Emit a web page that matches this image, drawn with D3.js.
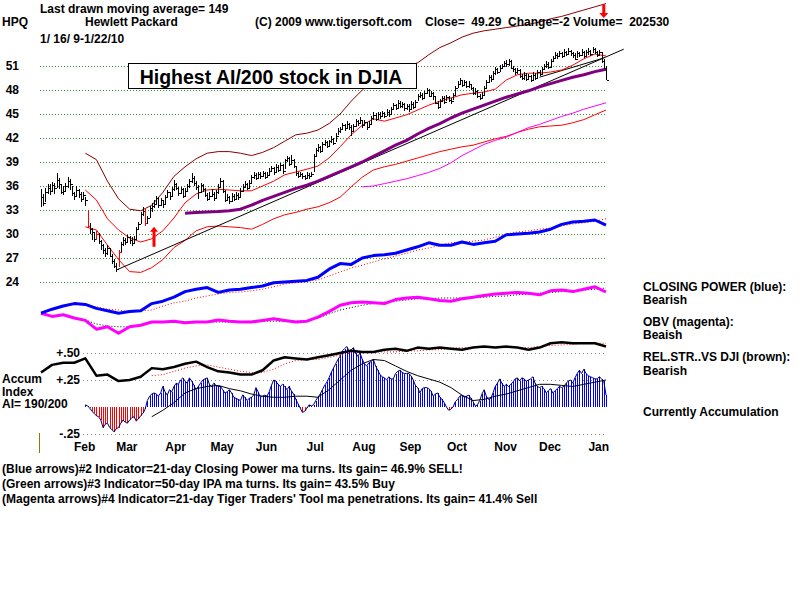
<!DOCTYPE html>
<html>
<head>
<meta charset="utf-8">
<script src="https://cdn.jsdelivr.net/npm/d3@7"></script>
<style>
body { margin: 0; background: #fff; }
svg text { font-family: "Liberation Sans", Arial, sans-serif; font-weight: bold; font-size: 12px; white-space: pre; }
</style>
</head>
<body>
<svg id="main-chart"></svg>
<script>
// daily bars, HPQ 1/16/09 - 1/22/10 (256 trading days)
const closes = [
  34.6,33.9,35.2,35.8,35.4,36.1,35.7,36.8,36.2,35.3,
  35.4,36.0,36.6,36.2,35.1,34.8,35.5,35.0,34.4,34.9,
  34.2,31.0,30.6,30.2,29.4,30.0,29.1,28.6,28.0,27.6,
  28.2,27.3,26.6,26.0,25.6,27.8,28.7,29.2,29.0,29.6,
  29.3,28.9,29.4,30.6,31.2,32.5,32.9,31.4,32.0,33.2,
  33.5,33.8,34.5,33.6,34.2,33.8,34.6,35.2,34.7,35.6,
  36.3,35.8,35.1,35.6,34.8,35.4,36.0,36.6,37.0,36.4,
  35.9,35.2,36.1,35.6,34.9,34.4,34.8,35.0,34.5,35.2,
  35.9,36.6,35.4,34.3,34.6,34.1,34.8,34.4,34.9,34.6,
  35.4,35.9,36.2,35.8,36.4,37.1,37.4,37.0,37.5,37.2,
  37.6,37.1,37.4,37.9,38.2,37.7,38.4,38.0,38.6,37.9,
  39.2,39.5,38.8,39.3,38.5,37.6,37.3,37.5,37.2,37.0,
  37.4,37.2,37.5,39.8,40.5,40.9,40.4,41.2,41.5,41.0,
  41.6,41.9,41.4,42.3,42.9,43.1,43.6,43.2,43.8,43.4,
  42.9,43.5,44.1,43.9,44.3,43.6,44.0,43.4,43.8,44.5,
  44.9,44.4,45.0,44.7,45.1,44.8,45.3,45.0,45.6,46.1,
  45.8,46.4,46.0,46.2,45.7,46.0,45.6,46.3,45.9,46.5,
  47.2,47.4,47.0,47.6,48.0,47.3,47.6,47.2,46.4,45.9,
  46.6,47.0,46.5,47.1,46.8,46.6,47.4,48.2,48.8,49.2,
  48.6,49.0,48.5,48.8,48.2,47.6,47.9,47.3,47.0,47.4,
  48.3,49.0,49.6,49.4,50.1,50.6,50.3,50.8,51.0,51.4,
  51.2,51.6,50.8,50.6,50.2,50.5,49.8,49.5,49.9,49.4,
  49.7,49.2,49.9,49.5,50.2,50.0,50.6,51.0,51.3,50.9,
  51.6,52.0,52.4,52.2,52.6,52.3,52.8,52.5,52.9,52.6,
  52.4,51.9,52.6,52.4,52.8,52.3,52.7,52.9,52.5,53.1,
  52.8,52.4,52.7,51.6,50.8,49.3
];
const highs = [
  35.6,35.0,35.7,36.3,36.2,36.5,36.4,37.6,37.0,36.3,
  36.0,36.4,37.1,36.9,36.0,35.3,36.0,35.6,35.2,35.3,
  34.6,33.0,31.4,30.8,30.3,30.4,30.1,29.2,28.7,28.3,
  28.6,28.3,27.5,26.9,26.4,28.0,29.0,29.6,29.5,29.9,
  29.8,29.6,29.7,30.9,31.5,32.8,33.4,33.3,32.3,33.5,
  33.9,34.2,34.8,34.6,34.5,34.3,34.9,35.5,35.3,35.9,
  36.8,36.4,35.9,35.9,35.7,35.7,36.3,36.9,37.6,37.2,
  36.6,36.1,36.4,36.3,35.8,35.1,35.2,35.6,35.2,35.5,
  36.2,37.0,36.7,35.5,35.0,34.8,35.1,35.0,35.2,35.1,
  35.7,36.2,36.6,36.4,36.7,37.4,37.8,37.6,37.8,37.7,
  37.9,37.8,37.7,38.2,38.5,38.4,38.7,38.6,38.9,38.7,
  39.4,39.8,39.6,39.9,39.4,38.4,37.8,37.8,37.6,37.4,
  37.7,37.6,37.8,40.0,40.7,41.2,41.0,41.5,41.8,41.6,
  41.8,42.2,42.0,42.6,43.2,43.4,43.9,43.7,44.1,43.9,
  43.6,43.8,44.4,44.3,44.6,44.3,44.3,44.0,44.1,44.8,
  45.2,45.1,45.3,45.2,45.4,45.3,45.6,45.5,45.9,46.4,
  46.3,46.7,46.6,46.5,46.4,46.3,46.2,46.6,46.5,46.8,
  47.5,47.7,47.6,47.9,48.3,48.1,47.9,47.8,47.3,46.6,
  46.9,47.3,47.2,47.4,47.3,47.0,47.6,48.5,49.1,49.5,
  49.3,49.3,49.1,49.1,48.8,48.4,48.2,48.0,47.5,47.7,
  48.5,49.3,49.9,49.9,50.4,50.9,50.8,51.1,51.3,51.6,
  51.7,51.9,51.7,51.0,50.8,50.8,50.6,50.0,50.2,50.1,
  50.0,49.9,50.2,50.1,50.5,50.5,50.9,51.3,51.6,51.5,
  51.9,52.3,52.7,52.6,52.9,52.8,53.1,52.9,53.2,53.0,
  52.8,52.6,52.9,52.8,53.1,52.9,53.0,53.2,53.0,53.4,
  53.2,52.9,53.0,52.8,51.9,51.0
];
const lows = [
  33.4,33.5,34.0,35.0,34.9,35.2,35.0,35.8,35.6,35.0,
  34.9,35.3,35.8,35.5,34.8,34.2,34.7,34.5,34.0,34.3,
  33.5,30.7,30.0,29.3,29.0,29.3,28.8,28.0,27.5,27.1,
  27.4,27.1,26.3,25.7,25.3,25.9,27.7,28.5,28.6,29.0,
  28.8,28.5,28.8,29.4,30.5,31.2,32.3,31.0,31.2,32.0,
  32.8,33.3,33.8,33.3,33.5,33.3,33.7,34.5,34.3,34.6,
  35.4,35.5,34.8,35.0,34.5,34.7,35.3,35.8,36.4,36.0,
  35.5,34.4,35.1,35.2,34.6,34.1,34.2,34.6,34.1,34.4,
  35.0,35.8,35.1,34.0,34.1,33.7,34.0,34.1,34.3,34.3,
  34.6,35.2,35.7,35.5,35.8,36.4,36.9,36.8,37.0,36.9,
  37.1,36.9,37.0,37.4,37.7,37.4,37.7,37.7,38.0,37.5,
  38.1,39.0,38.5,38.6,38.3,37.3,37.0,37.1,36.9,36.8,
  37.0,36.9,37.1,37.7,39.7,40.2,40.1,40.3,41.0,40.7,
  41.0,41.4,41.1,41.5,42.4,42.6,43.1,42.9,43.2,43.0,
  42.3,42.8,43.4,43.5,43.8,43.3,43.5,43.0,43.3,43.8,
  44.3,44.1,44.3,44.4,44.6,44.5,44.8,44.6,45.0,45.5,
  45.5,45.8,45.7,45.8,45.4,45.5,45.3,45.6,45.6,45.9,
  46.6,47.0,46.8,47.0,47.5,47.1,47.2,46.8,46.2,45.6,
  45.8,46.5,46.2,46.6,46.5,46.3,46.7,47.4,48.2,48.7,
  48.4,48.5,48.2,48.3,48.0,47.4,47.4,47.0,46.8,46.9,
  47.2,48.2,48.9,49.0,49.3,49.9,50.0,50.2,50.6,50.9,
  50.9,51.0,50.6,50.2,49.9,50.0,49.5,49.2,49.3,49.1,
  49.2,49.0,49.1,49.2,49.5,49.7,50.0,50.5,50.8,50.6,
  50.8,51.5,51.9,51.9,52.1,52.0,52.3,52.2,52.5,52.2,
  52.0,51.7,52.0,52.1,52.3,52.0,52.2,52.4,52.2,52.6,
  52.5,52.1,52.3,51.4,50.6,49.2
];
const redBars = [21, 25, 35, 47];

// lines read every 5th trading day (0,5,...,255)
const sampleDays = d3.range(0, 256, 5);
const upperBand = [null,null,null,null,
  40.1,39.3,36.6,34.4,33.1,32.9,33.6,35.2,37.2,38.4,39.4,40.1,40.3,40.3,40.1,39.8,
  40.2,40.8,41.6,42.4,42.6,43.0,43.8,45.0,46.6,48.0,49.2,50.0,50.6,51.0,51.4,52.4,
  53.3,53.9,54.6,55.1,55.4,55.6,55.8,56.0,56.2,56.5,56.9,57.2,57.6,58.0,58.4,58.8];
const midBand = [null,null,null,null,
  35.5,34.25,31.9,30.5,29.5,29.0,29.4,30.4,32.0,33.9,35.0,35.5,35.6,35.5,35.4,35.4,
  36.0,36.6,37.4,37.75,38.1,38.5,39.5,40.9,42.4,43.6,44.4,44.1,44.5,44.9,45.5,46.1,
  46.6,47.0,47.4,47.6,47.75,48.1,49.25,49.9,50.1,50.1,50.25,50.5,51.1,51.9,52.5,52.25];
const lowBand = [null,null,null,null,
  30.9,30.5,28.6,26.8,25.3,25.2,25.8,26.8,28.3,29.2,30.4,30.9,31.0,30.9,30.8,30.6,
  31.2,31.9,32.4,32.7,33.1,33.4,33.9,34.6,35.9,37.1,38.0,38.4,38.7,39.1,39.5,39.9,
  40.3,40.6,40.9,41.1,41.5,41.9,42.2,42.7,43.1,43.4,43.5,43.6,43.9,44.3,44.9,45.5];
const ma50 = [null,null,null,null,null,null,null,null,null,null,null,null,null,
  32.6,32.7,32.75,32.8,32.9,33.1,33.6,34.2,34.7,35.2,35.7,36.1,36.6,37.2,37.8,38.4,
  39.0,39.7,40.4,41.1,41.7,42.5,43.2,43.8,44.5,45.1,45.6,46.1,46.6,47.1,47.5,47.9,
  48.4,48.8,49.2,49.6,49.9,50.3,50.6];
const ma200 = [null,null,null,null,null,null,null,null,null,null,null,null,null,null,null,
  null,null,null,null,null,null,null,null,null,null,null,null,null,null,
  35.9,36.0,36.3,36.6,36.9,37.3,37.7,38.2,38.9,39.8,40.5,41.2,41.7,42.1,42.7,43.3,
  43.7,44.2,44.7,45.1,45.6,46.0,46.4];

// closing power (blue) and OBV (magenta), plotted on the price panel
const closingPower = [20.1,20.6,21.0,21.3,21.2,20.7,20.4,20.1,20.3,20.4,
  21.3,21.6,22.1,22.8,23.1,23.3,22.7,23.0,23.1,23.3,23.5,23.9,24.0,24.1,24.2,24.6,
  25.6,26.3,26.2,27.0,27.3,27.4,27.6,28.0,28.4,28.9,28.6,28.6,29.0,28.7,28.9,29.1,
  29.9,30.0,30.1,30.25,30.6,31.2,31.5,31.6,31.75,31.1];
const closingPowerMA = [null,null,null,null,
  21.1,20.9,20.6,20.5,20.25,20.4,20.5,21.0,21.4,21.6,22.0,22.25,22.5,22.7,22.75,22.9,
  23.1,23.4,23.75,23.9,24.1,24.25,24.75,25.25,25.75,26.1,26.5,26.9,27.25,27.6,28.0,
  28.25,28.6,28.9,29.0,29.1,29.25,29.6,30.0,30.25,30.4,30.6,30.75,31.0,31.25,31.4,31.6,31.9];
const obv = [20.1,19.7,19.9,19.5,19.2,18.1,18.4,17.6,18.4,18.6,
  19.0,19.0,19.1,18.9,19.0,19.0,19.25,19.1,19.0,19.0,19.2,19.4,19.2,19.0,19.1,19.6,
  20.3,21.1,21.4,21.5,21.4,21.3,21.8,22.0,22.1,21.9,21.7,21.6,21.9,22.1,22.3,22.5,
  22.6,22.7,22.6,22.4,22.9,23.0,22.8,23.1,23.4,22.75];
const obvMA = [null,null,null,null,
  19.25,18.75,18.5,18.4,18.4,18.6,19.0,19.0,19.0,19.0,19.0,19.0,19.0,19.0,19.05,19.1,
  19.1,19.1,19.1,19.1,19.2,19.5,20.0,20.5,20.8,21.1,21.3,21.5,21.6,21.75,21.9,21.9,
  22.0,22.0,22.0,22.05,22.1,22.2,22.25,22.4,22.5,22.6,22.7,22.8,22.9,23.0,23.1,23.25];

// lower panel: relative strength (black) and accumulation index
const relStrength = [0.32,0.39,0.41,0.41,0.45,0.29,0.30,0.24,0.25,0.28,
  0.36,0.35,0.37,0.40,0.42,0.37,0.33,0.32,0.30,0.30,0.34,0.43,0.46,0.45,0.44,0.46,
  0.48,0.50,0.52,0.51,0.51,0.53,0.54,0.52,0.55,0.54,0.55,0.54,0.53,0.55,0.56,0.55,
  0.56,0.55,0.53,0.55,0.59,0.60,0.59,0.59,0.59,0.56];
const relStrengthMA = [null,null,null,null,null,null,null,null,null,null,
  0.29,0.30,0.33,0.36,0.38,0.39,0.37,0.35,0.33,0.32,0.32,0.35,0.40,0.43,0.44,0.44,
  0.46,0.48,0.50,0.51,0.51,0.51,0.51,0.52,0.52,0.53,0.53,0.545,0.55,0.55,0.55,0.55,
  0.55,0.55,0.55,0.56,0.57,0.575,0.58,0.59,0.59,0.59];
const accumIndex = [
  null,null,null,null,null,null,null,null,null,null,
  null,null,null,null,null,null,null,null,null,null,
  0.02,0.01,-0.01,-0.04,-0.06,-0.08,-0.09,-0.12,-0.19,-0.16,
  -0.15,-0.19,-0.21,-0.23,-0.20,-0.19,-0.15,-0.12,-0.14,-0.15,
  -0.12,-0.10,-0.09,-0.13,-0.11,-0.08,-0.06,-0.02,0.06,0.10,
  0.12,0.13,0.12,0.10,0.13,0.19,0.14,0.11,0.16,0.14,
  0.19,0.22,0.21,0.25,0.27,0.24,0.22,0.27,0.24,0.20,
  0.16,0.19,0.22,0.25,0.26,0.27,0.21,0.19,0.22,0.20,
  0.19,0.19,0.16,0.13,0.14,0.16,0.13,0.09,0.08,0.07,
  0.06,0.11,0.09,0.06,0.08,0.09,0.11,0.18,0.14,0.09,
  0.10,0.11,0.10,0.14,0.20,0.25,0.24,0.21,0.19,0.21,
  0.19,0.16,0.19,0.15,0.12,0.07,0.03,-0.01,-0.05,-0.04,
  -0.01,0.02,0.01,0.02,0.06,0.09,0.12,0.16,0.20,0.23,
  0.27,0.32,0.36,0.40,0.44,0.47,0.52,0.54,0.56,0.52,
  0.53,0.55,0.50,0.47,0.50,0.44,0.40,0.38,0.41,0.42,
  0.44,0.38,0.34,0.30,0.28,0.27,0.25,0.28,0.26,0.26,
  0.31,0.33,0.34,0.32,0.31,0.31,0.31,0.29,0.25,0.20,
  0.18,0.13,0.17,0.18,0.18,0.17,0.15,0.10,0.12,0.13,
  0.09,0.07,0.04,0.00,-0.03,-0.02,0.00,0.05,0.07,0.10,
  0.11,0.09,0.10,0.11,0.08,0.05,0.01,0.02,0.06,0.12,
  0.16,0.10,0.07,0.08,0.13,0.19,0.22,0.26,0.22,0.19,
  0.21,0.19,0.21,0.23,0.26,0.27,0.24,0.27,0.26,0.24,
  0.25,0.26,0.28,0.22,0.19,0.18,0.19,0.17,0.13,0.15,
  0.17,0.13,0.15,0.17,0.19,0.18,0.19,0.22,0.24,0.25,
  0.22,0.27,0.31,0.34,0.31,0.35,0.31,0.29,0.28,0.27,
  0.26,0.26,0.28,0.26,0.24,0.11
];
const accumMA = [null,null,null,null,null,null,null,null,null,null,
  -0.09,-0.03,0.04,0.13,0.17,0.19,0.20,0.17,0.15,0.12,0.10,0.09,0.09,0.10,0.10,0.09,
  0.16,0.25,0.34,0.40,0.44,0.43,0.38,0.33,0.29,0.26,0.23,0.18,0.11,0.06,0.07,0.10,
  0.12,0.15,0.18,0.21,0.21,0.20,0.19,0.21,0.23,0.25];

// trend lines and signal arrows [day, price]
const trendLines = [[[34, 25.5], [263, 53.1]], [[225, 49.6], [254, 52.0]]];
const upArrows = [[51, 28.4, 30.9]];
const downArrows = [[254, 58.7, 57.0]];

const priceTicks = [24, 27, 30, 33, 36, 39, 42, 45, 48, 51];
const aiTicks = [-0.25, 0.25, 0.5];
const aiTickLabels = ["-.25", "+.25", "+.50"];
const months = ["Feb", "Mar", "Apr", "May", "Jun", "Jul", "Aug", "Sep", "Oct", "Nov", "Dec", "Jan"];
const monthStart = [10, 29, 51, 72, 92, 114, 136, 157, 178, 200, 220, 242];

const headerLines = [
  ["Last drawn moving average= 149", 40, 13],
  ["HPQ", 2, 26],
  ["Hewlett Packard", 85, 26],
  ["(C) 2009 www.tigersoft.com", 255, 26],
  ["Close=  49.29  Change=-2 Volume=  202530", 425, 26],
  ["1/ 16/ 9-1/22/10", 40, 43]
];
const sideNotes = [
  ["CLOSING POWER (blue):", 291], ["Bearish", 304],
  ["OBV (magenta):", 326], ["Beaish", 339],
  ["REL.STR..VS DJI (brown):", 361], ["Bearish", 375],
  ["Currently Accumulation", 416]
];
const footNotes = [
  "(Blue arrows)#2 Indicator=21-day Closing Power ma turns. Its gain= 46.9% SELL!",
  "(Green arrows)#3 Indicator=50-day IPA ma turns. Its gain= 43.5% Buy",
  "(Magenta arrows)#4 Indicator=21-day Tiger Traders' Tool ma penetrations. Its gain= 41.4% Sell"
];

function plotchart() {
  const width = 800;
  const height = 600;
  const svg = d3.select("#main-chart").attr("width", width).attr("height", height);

  const x = d3.scaleLinear().domain([0, closes.length - 1]).range([41, 606]);
  const y = d3.scaleLinear().domain([24, 51]).range([282, 66]);
  const yAI = d3.scaleLinear().domain([-0.25, 0.5]).range([434, 353]);
  const px = v => Math.round(v) + 0.5;

  // dotted grid
  svg.append("g").selectAll("line").data(priceTicks).join("line")
    .attr("x1", 40).attr("x2", 607)
    .attr("y1", d => px(y(d))).attr("y2", d => px(y(d)))
    .attr("stroke", "#2f8f2f").attr("stroke-dasharray", "1,2");
  svg.append("g").selectAll("line").data(aiTicks).join("line")
    .attr("x1", 83).attr("x2", 607)
    .attr("y1", d => px(yAI(d))).attr("y2", d => px(yAI(d)))
    .attr("stroke", "#888").attr("stroke-dasharray", "1,3");

  // axes
  svg.append("g").attr("transform", "translate(19,0)")
    .call(d3.axisLeft(y).tickValues(priceTicks).tickSize(0).tickPadding(0))
    .call(g => g.select(".domain").remove())
    .call(g => g.selectAll("text").attr("font-size", 12).attr("font-family", null).attr("fill", "#000"));
  svg.append("g").attr("transform", "translate(80,0)")
    .call(d3.axisLeft(yAI).tickValues(aiTicks).tickSize(0).tickPadding(0)
      .tickFormat((d, i) => aiTickLabels[i]))
    .call(g => g.select(".domain").remove())
    .call(g => g.selectAll("text").attr("font-size", 12).attr("font-family", null).attr("fill", "#000"));
  svg.append("g").attr("transform", "translate(0,442)")
    .call(d3.axisBottom(x).tickValues(monthStart.map(d => d + 9.5)).tickSize(0).tickPadding(0)
      .tickFormat((d, i) => months[i]))
    .call(g => g.select(".domain").remove())
    .call(g => g.selectAll("text").attr("font-size", 12).attr("font-family", null).attr("fill", "#000"));

  const pts = vals => vals.map((v, k) => [sampleDays[k], v]);
  function addLine(vals, sc, color, w, dash) {
    const line = d3.line().defined(d => d[1] != null).x(d => x(d[0])).y(d => sc(d[1]));
    svg.append("path").datum(pts(vals)).attr("d", line)
      .attr("fill", "none").attr("stroke", color).attr("stroke-width", w)
      .attr("stroke-dasharray", dash || null).attr("stroke-linejoin", "round");
  }

  // indicators in the price panel
  addLine(closingPowerMA, y, "#ff0000", 1, "1,2");
  addLine(obvMA, y, "#000", 1, "1,2");
  addLine(obv, y, "#ff00ff", 3);
  addLine(closingPower, y, "#0000ff", 3);

  // bands and averages
  addLine(upperBand, y, "#8b0000", 1);
  addLine(lowBand, y, "#ff0000", 1);
  addLine(ma200, y, "#ff00ff", 1);
  svg.append("g").selectAll("line").data(trendLines).join("line")
    .attr("x1", d => x(d[0][0])).attr("y1", d => y(d[0][1]))
    .attr("x2", d => x(d[1][0])).attr("y2", d => y(d[1][1]))
    .attr("stroke", "#000").attr("stroke-width", 1);
  addLine(ma50, y, "#800080", 3);
  addLine(midBand, y, "#ff0000", 1);

  // price bars
  svg.append("g").selectAll("path").data(closes).join("path")
    .attr("d", (c, i) => {
      const bx = px(x(i));
      return `M${bx},${y(highs[i])}V${y(lows[i])}M${bx},${px(y(c))}H${bx + 2}`;
    })
    .attr("stroke", (c, i) => redBars.includes(i) ? "#ff0000" : "#000")
    .attr("stroke-width", 1).attr("fill", "none")
    .attr("shape-rendering", "crispEdges");

  // signal arrows
  svg.append("g").selectAll("path").data(upArrows).join("path")
    .attr("d", d => {
      const ax = x(d[0]), yb = y(d[1]), yt = y(d[2]);
      return `M${ax - 1.5},${yb}V${yt + 5}H${ax - 4}L${ax},${yt}L${ax + 4},${yt + 5}H${ax + 1.5}V${yb}Z`;
    })
    .attr("fill", "#ff0000");
  svg.append("g").selectAll("path").data(downArrows).join("path")
    .attr("d", d => {
      const ax = x(d[0]), yt = y(d[1]), yb = y(d[2]);
      return `M${ax - 1.5},${yt}V${yb - 5}H${ax - 4.5}L${ax},${yb}L${ax + 4.5},${yb - 5}H${ax + 1.5}V${yt}Z`;
    })
    .attr("fill", "#ff0000");

  // accumulation index histogram
  const aiData = accumIndex.map((v, i) => [i, v]).filter(d => d[1] != null);
  svg.append("g").selectAll("line").data(aiData).join("line")
    .attr("x1", d => px(x(d[0]))).attr("x2", d => px(x(d[0])))
    .attr("y1", yAI(0)).attr("y2", d => yAI(d[1]))
    .attr("stroke", d => d[1] < 0 ? "#ff0000" : "#0000ff")
    .attr("shape-rendering", "crispEdges");
  svg.append("path").datum(aiData)
    .attr("d", d3.line().x(d => x(d[0])).y(d => yAI(d[1])))
    .attr("fill", "none").attr("stroke", "#000060").attr("stroke-width", 1);
  addLine(accumMA, yAI, "#000", 1);
  addLine(relStrengthMA, yAI, "#ff0000", 1, "1,2");
  addLine(relStrength, yAI, "#000", 2.5);

  // title box
  svg.append("rect").attr("x", 128.5).attr("y", 63.5).attr("width", 288).attr("height", 25)
    .attr("fill", "#fff").attr("stroke", "#000");
  svg.append("text").attr("x", 271).attr("y", 84).attr("text-anchor", "middle")
    .style("font-size", "19.5px").text("Highest AI/200 stock in DJIA");

  // texts
  svg.append("g").selectAll("text").data(headerLines).join("text")
    .attr("x", d => d[1]).attr("y", d => d[2]).text(d => d[0]);
  svg.append("g").selectAll("text").data(sideNotes).join("text")
    .attr("x", 643).attr("y", d => d[1]).text(d => d[0]);
  svg.append("g").selectAll("text").data(footNotes).join("text")
    .attr("x", 2).attr("y", (d, i) => 473 + i * 15).text(d => d);
  svg.append("g").selectAll("text").data(["Accum", "Index", "AI= 190/200"]).join("text")
    .attr("x", 2).attr("y", (d, i) => 383 + i * 12.5).text(d => d);
  svg.append("line").attr("x1", 39.5).attr("x2", 39.5).attr("y1", 433).attr("y2", 453)
    .attr("stroke", "#808000");
}

plotchart();
</script>
</body>
</html>
